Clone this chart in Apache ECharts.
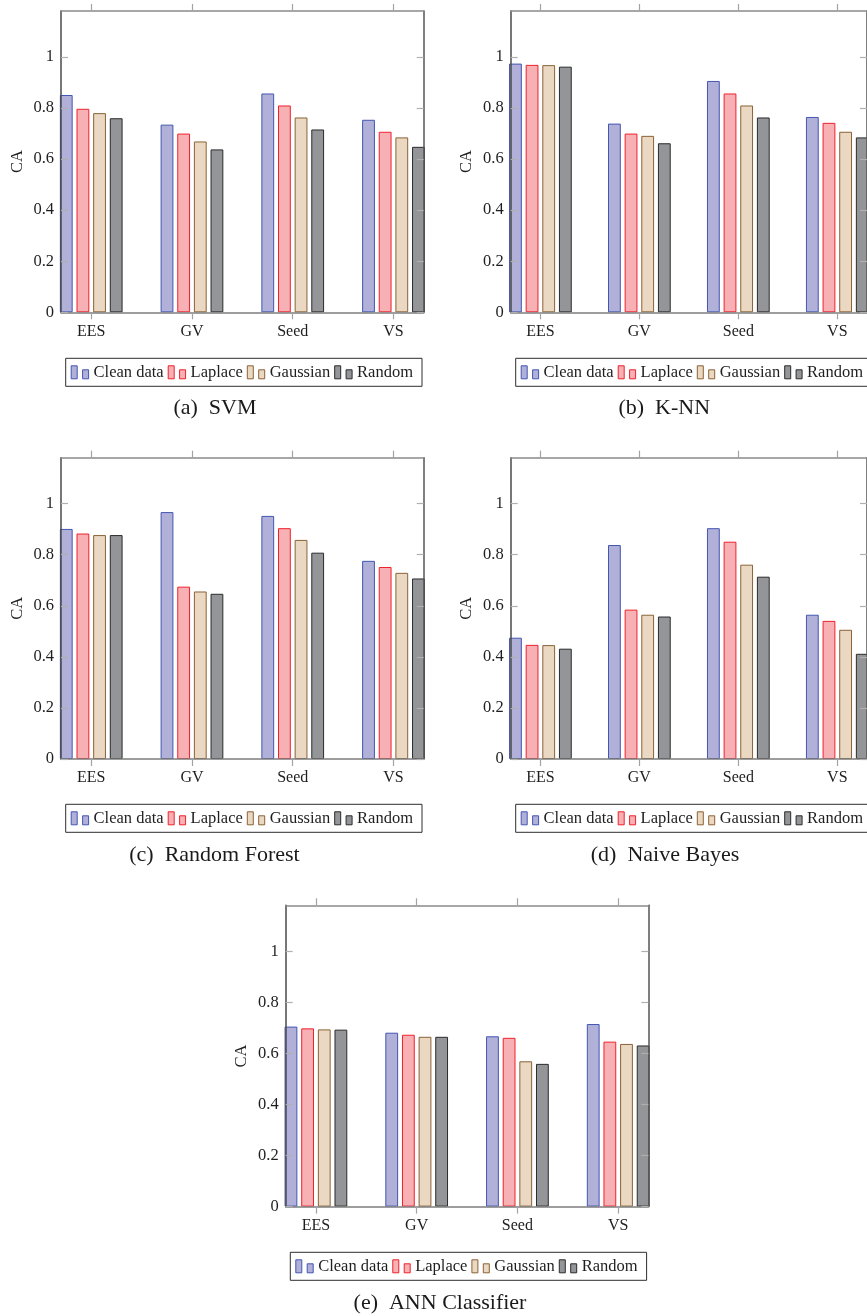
<!DOCTYPE html>
<html>
<head>
<meta charset="utf-8">
<title>CA by dataset and perturbation</title>
<script src="https://cdn.jsdelivr.net/npm/echarts@6/dist/echarts.min.js"></script>
<style>
  html, body { margin: 0; padding: 0; background: #fff; }
  #chart { width: 867px; height: 1316px; }
</style>
</head>
<body>
<div id="chart"></div>
<script>
// Datasets on the x axis and the four data variants shown as bars
const categories = ['EES', 'GV', 'Seed', 'VS'];
const seriesNames = ['Clean data', 'Laplace', 'Gaussian', 'Random'];
const yTicks = [0, 0.2, 0.4, 0.6, 0.8, 1];

// Classification accuracy per classifier; rows follow seriesNames, columns follow categories
const svmScores = [
  [0.851, 0.735, 0.857, 0.754],
  [0.797, 0.700, 0.810, 0.707],
  [0.780, 0.669, 0.763, 0.685],
  [0.760, 0.638, 0.716, 0.648]
];
const knnScores = [
  [0.974, 0.739, 0.906, 0.765],
  [0.969, 0.700, 0.857, 0.742],
  [0.968, 0.691, 0.810, 0.707],
  [0.962, 0.662, 0.763, 0.685]
];
const rfScores = [
  [0.901, 0.967, 0.952, 0.776],
  [0.883, 0.675, 0.904, 0.752],
  [0.877, 0.656, 0.858, 0.729],
  [0.877, 0.647, 0.808, 0.707]
];
const nbScores = [
  [0.475, 0.838, 0.904, 0.565],
  [0.447, 0.585, 0.851, 0.541],
  [0.446, 0.565, 0.761, 0.506],
  [0.432, 0.558, 0.714, 0.412]
];
const annScores = [
  [0.705, 0.681, 0.667, 0.715],
  [0.698, 0.673, 0.661, 0.646],
  [0.694, 0.665, 0.569, 0.637],
  [0.693, 0.665, 0.559, 0.631]
];

// Bar fill and outline per variant
const fills = ['#b1b0d9', '#f7b0b3', '#ead8c2', '#949598'];
const strokes = ['#4356b2', '#f0202c', '#8a6236', '#2b2b2b'];

const FONT = '"Liberation Serif", "Times New Roman", serif';
const W = 362.7, H = 301.3;

// Panel placement on the page
const panels = [
  { scores: svmScores, caption: '(a)  SVM',           left: 61,    top: 11,    legendLeft: 65.7,  legendTop: 358.3,  capX: 215,   capY: 408.3 },
  { scores: knnScores, caption: '(b)  K-NN',          left: 510.7, top: 11,    legendLeft: 515.7, legendTop: 358.3,  capX: 664.2, capY: 408.3 },
  { scores: rfScores,  caption: '(c)  Random Forest', left: 61,    top: 457.7, legendLeft: 65.7,  legendTop: 804.3,  capX: 214.5, capY: 855 },
  { scores: nbScores,  caption: '(d)  Naive Bayes',   left: 510.7, top: 457.7, legendLeft: 515.7, legendTop: 804.3,  capX: 665,   capY: 855 },
  { scores: annScores, caption: '(e)  ANN Classifier',left: 285.7, top: 905.3, legendLeft: 290.3, legendTop: 1252.3, capX: 440,   capY: 1303.3 }
];

// Two-bar legend glyph
const legendIcon = 'path://M0,0h6v13h-6z M11.4,4h6v9h-6z';

const grids = [], xAxes = [], yAxes = [], series = [], legends = [], graphics = [];

panels.forEach((p, i) => {
  grids.push({ left: p.left, top: p.top, width: W, height: H, show: false, containLabel: false });

  const xCommon = {
    type: 'value', gridIndex: i, min: -0.3, max: 3.3, z: 3,
    splitLine: { show: false },
    axisTick: { show: true, inside: false, length: 7, customValues: [0, 1, 2, 3],
      lineStyle: { color: '#a3a3a3', width: 1.2 } }
  };
  xAxes.push(Object.assign({}, xCommon, {
    position: 'bottom',
    axisLine: { show: true, onZero: false, lineStyle: { color: '#7d7d7d', width: 1.6 } },
    axisLabel: { show: true, margin: 11, customValues: [0, 1, 2, 3],
      formatter: v => categories[Math.round(v)] || '',
      fontFamily: FONT, fontSize: 16, color: '#1e1e1e' }
  }));
  xAxes.push(Object.assign({}, xCommon, {
    position: 'top',
    axisLine: { show: true, onZero: false, lineStyle: { color: '#8a8a8a', width: 1.5 } },
    axisLabel: { show: false }
  }));

  const yCommon = {
    type: 'value', gridIndex: i, min: 0, max: 1.18, z: 3,
    splitLine: { show: false },
    axisTick: { show: true, inside: true, length: 7, customValues: yTicks,
      lineStyle: { color: '#b0b0b0', width: 1.2 } }
  };
  yAxes.push(Object.assign({}, yCommon, {
    position: 'left',
    axisLine: { show: true, onZero: false, lineStyle: { color: '#4a4a4a', width: 1.5 } },
    axisLabel: { show: true, margin: 7, customValues: yTicks,
      formatter: v => String(+Number(v).toFixed(1)),
      fontFamily: FONT, fontSize: 16.5, color: '#1e1e1e' }
  }));
  yAxes.push(Object.assign({}, yCommon, {
    position: 'right',
    axisLine: { show: true, onZero: false, lineStyle: { color: '#555555', width: 1.5 } },
    axisLabel: { show: false }
  }));

  seriesNames.forEach((name, s) => {
    series.push({
      type: 'bar',
      name: name,
      xAxisIndex: 2 * i,
      yAxisIndex: 2 * i,
      data: categories.map((c, k) => [k, p.scores[s][k]]),
      barWidth: 12.8,
      barGap: '30%',
      clip: true,
      animation: false,
      itemStyle: { color: fills[s], borderColor: strokes[s], borderWidth: 1 },
      emphasis: { disabled: true }
    });
  });

  legends.push({
    left: p.legendLeft, top: p.legendTop,
    width: 360,
    orient: 'horizontal',
    itemWidth: 17.4, itemHeight: 13, itemGap: 4,
    padding: [5, 9, 5, 5],
    borderColor: '#2e2e2e', borderWidth: 1,
    selectedMode: false,
    textStyle: { fontFamily: FONT, fontSize: 16.5, color: '#1e1e1e', lineHeight: 18 },
    data: seriesNames.map((n, s) => ({
      name: n, icon: legendIcon,
      itemStyle: { color: fills[s], borderColor: strokes[s], borderWidth: 1 }
    }))
  });

  // Axis title and sub-figure caption
  graphics.push({
    type: 'text', x: p.left - 43.7, y: p.top + H / 2, rotation: Math.PI / 2,
    style: { text: 'CA', font: '16.5px ' + FONT, fill: '#1e1e1e',
      textAlign: 'center', textVerticalAlign: 'middle', align: 'center', verticalAlign: 'middle' }
  });
  graphics.push({
    type: 'text', x: p.capX, y: p.capY,
    style: { text: p.caption, font: '22px ' + FONT, fill: '#1a1a1a',
      textAlign: 'center', textVerticalAlign: 'middle', align: 'center', verticalAlign: 'middle' }
  });
});

const chart = echarts.init(document.getElementById('chart'), null, { renderer: 'canvas' });
chart.setOption({
  backgroundColor: '#ffffff',
  animation: false,
  grid: grids,
  xAxis: xAxes,
  yAxis: yAxes,
  legend: legends,
  series: series,
  graphic: graphics
});
</script>
</body>
</html>
